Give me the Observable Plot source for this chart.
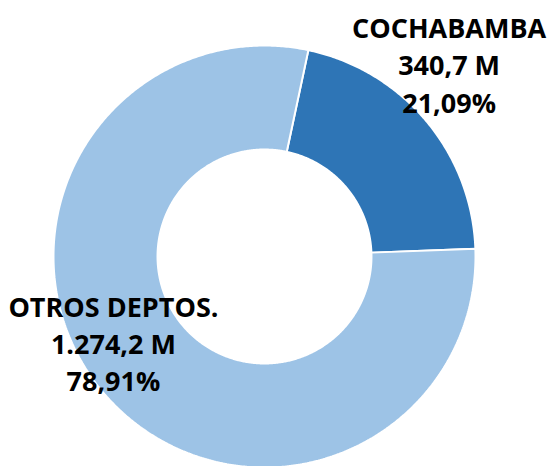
<!DOCTYPE html>
<html>
<head>
<meta charset="utf-8">
<script src="https://cdn.jsdelivr.net/npm/d3@7"></script>
<script src="https://cdn.jsdelivr.net/npm/@observablehq/plot@0.6"></script>
<style>
  html, body { margin: 0; padding: 0; background: #ffffff; }
  #chart svg { display: block; }
</style>
</head>
<body>
<div id="chart"></div>
<script>
// ---- data ----
const categories = ["COCHABAMBA", "OTROS DEPTOS."];
const amountsM = [340.7, 1274.2];      // millions
const percents = [21.09, 78.91];       // share, %
const colors = ["#2E75B6", "#9DC3E6"];

// ---- layout ----
const W = 551, H = 466;
const cx = 264, cy = 256, R = 211;     // pixels
const innerRatio = 0.507;
const rotation = 12;                   // degrees, clockwise from 12 o'clock
const labelLayout = {                  // label centres in radius units
  "COCHABAMBA": {dx: 0.875, dy: 0.915},
  "OTROS DEPTOS.": {dx: -0.716, dy: -0.405}
};

const loc = d3.formatLocale({decimal: ",", thousands: ".", grouping: [3], currency: ["", ""]});
const fmtAmt = loc.format(",.1f");
const fmtPct = loc.format(".2f");

// build ring segments from the shares
const total = d3.sum(percents);
let acc = 0;
const slices = categories.map((name, i) => {
  const a0 = rotation + acc / total * 360;
  acc += percents[i];
  const a1 = rotation + acc / total * 360;
  return {name, a0, a1, amount: amountsM[i], pct: percents[i]};
});

const pts = [];
for (const s of slices) {
  const n = Math.max(2, Math.ceil((s.a1 - s.a0) * 2));
  const ring = [];
  for (let k = 0; k <= n; k++) {
    const a = (s.a0 + (s.a1 - s.a0) * k / n) * Math.PI / 180;
    ring.push({name: s.name, x: Math.sin(a), y: Math.cos(a)});
  }
  for (let k = n; k >= 0; k--) {
    const a = (s.a0 + (s.a1 - s.a0) * k / n) * Math.PI / 180;
    ring.push({name: s.name, x: innerRatio * Math.sin(a), y: innerRatio * Math.cos(a)});
  }
  ring.push({...ring[0]});
  pts.push(...ring);
}

const labels = slices.map(s => ({
  name: s.name,
  x: labelLayout[s.name].dx,
  y: labelLayout[s.name].dy,
  text: `${s.name}\n${fmtAmt(s.amount)} M\n${fmtPct(s.pct)}%`
}));

const chart = Plot.plot({
  width: W,
  height: H,
  margin: 0,
  x: {domain: [-cx / R, (W - cx) / R], axis: null},
  y: {domain: [-(H - cy) / R, cy / R], axis: null},
  color: {domain: categories, range: colors},
  style: {background: "#ffffff"},
  marks: [
    Plot.line(pts, {
      x: "x", y: "y", z: "name",
      fill: "name",
      stroke: "#ffffff",
      strokeWidth: 2,
      strokeLinejoin: "miter"
    }),
    Plot.text(labels, {
      x: "x", y: "y", text: "text",
      fill: "#000000",
      fontFamily: "'Open Sans', sans-serif",
      fontWeight: "bold",
      fontSize: 27,
      lineHeight: 1.38
    })
  ]
});
document.getElementById("chart").appendChild(chart);
</script>
</body>
</html>
